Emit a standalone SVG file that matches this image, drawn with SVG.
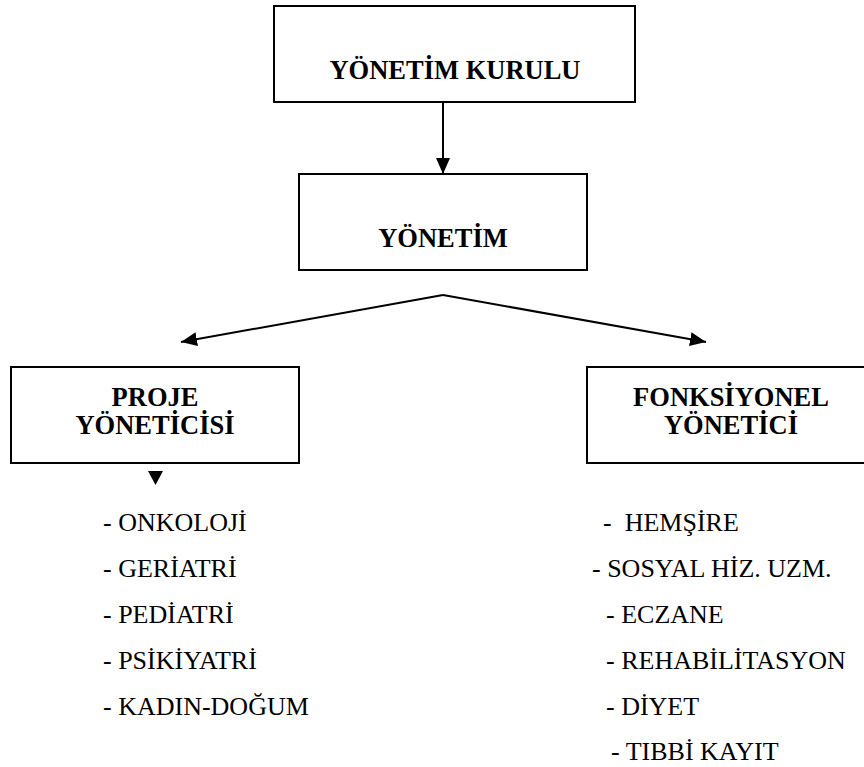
<svg xmlns="http://www.w3.org/2000/svg" width="864" height="767" viewBox="0 0 864 767" font-family="'Liberation Serif', 'DejaVu Serif', serif">
  <style>
    text { font-family: 'Liberation Serif', 'DejaVu Serif', serif; }
    .box { fill: #ffffff; stroke: #000000; stroke-width: 2; }
    .title { font-size: 26.5px; font-weight: bold; fill: #000000; text-anchor: middle; }
    .item { font-size: 26px; fill: #000000; white-space: pre; }
    .link { fill: none; stroke: #000000; stroke-width: 2; }
  </style>
  <defs>
    <marker id="head" viewBox="0 0 16 16" refX="16" refY="8" markerWidth="16" markerHeight="16" markerUnits="userSpaceOnUse" orient="auto">
      <path d="M0,1 L16,8 L0,15 Z" fill="#000000"/>
    </marker>
  </defs>

  <rect width="864" height="767" fill="#ffffff"/>

  <!-- connectors -->
  <g id="connectors">
    <line class="link" x1="443" y1="102" x2="443" y2="174" marker-end="url(#head)"/>
    <line class="link" x1="443" y1="295" x2="181" y2="342" marker-end="url(#head)"/>
    <line class="link" x1="443" y1="295" x2="706" y2="342" marker-end="url(#head)"/>
  </g>

  <!-- board -->
  <g id="yonetim-kurulu">
    <rect class="box" x="274" y="6" width="361" height="96"/>
    <text class="title" x="455" y="79">YÖNETİM KURULU</text>
  </g>

  <!-- management -->
  <g id="yonetim">
    <rect class="box" x="299" y="174" width="288" height="96"/>
    <text class="title" x="443" y="247">YÖNETİM</text>
  </g>

  <!-- project manager -->
  <g id="proje-yoneticisi">
    <rect class="box" x="11" y="367" width="288" height="96"/>
    <text class="title" x="155" y="406">PROJE</text>
    <text class="title" x="155" y="434">YÖNETİCİSİ</text>
  </g>

  <!-- functional manager -->
  <g id="fonksiyonel-yonetici">
    <rect class="box" x="587" y="367" width="290" height="96"/>
    <text class="title" x="731" y="406">FONKSİYONEL</text>
    <text class="title" x="731" y="434">YÖNETİCİ</text>
  </g>

  <!-- project units -->
  <g id="proje-birimleri">
    <polygon points="148,471 163,471 155.5,485" fill="#000000"/>
    <text class="item" x="103" y="531">- ONKOLOJİ</text>
    <text class="item" x="103" y="577">- GERİATRİ</text>
    <text class="item" x="103" y="623">- PEDİATRİ</text>
    <text class="item" x="103" y="669">- PSİKİYATRİ</text>
    <text class="item" x="103" y="715">- KADIN-DOĞUM</text>
  </g>

  <!-- functional units -->
  <g id="fonksiyonel-birimler">
    <text class="item" x="603" y="531">-  HEMŞİRE</text>
    <text class="item" x="592" y="577">- SOSYAL HİZ. UZM.</text>
    <text class="item" x="606" y="623">- ECZANE</text>
    <text class="item" x="606" y="669">- REHABİLİTASYON</text>
    <text class="item" x="606" y="715">- DİYET</text>
    <text class="item" x="611" y="760">- TIBBİ KAYIT</text>
  </g>
</svg>
